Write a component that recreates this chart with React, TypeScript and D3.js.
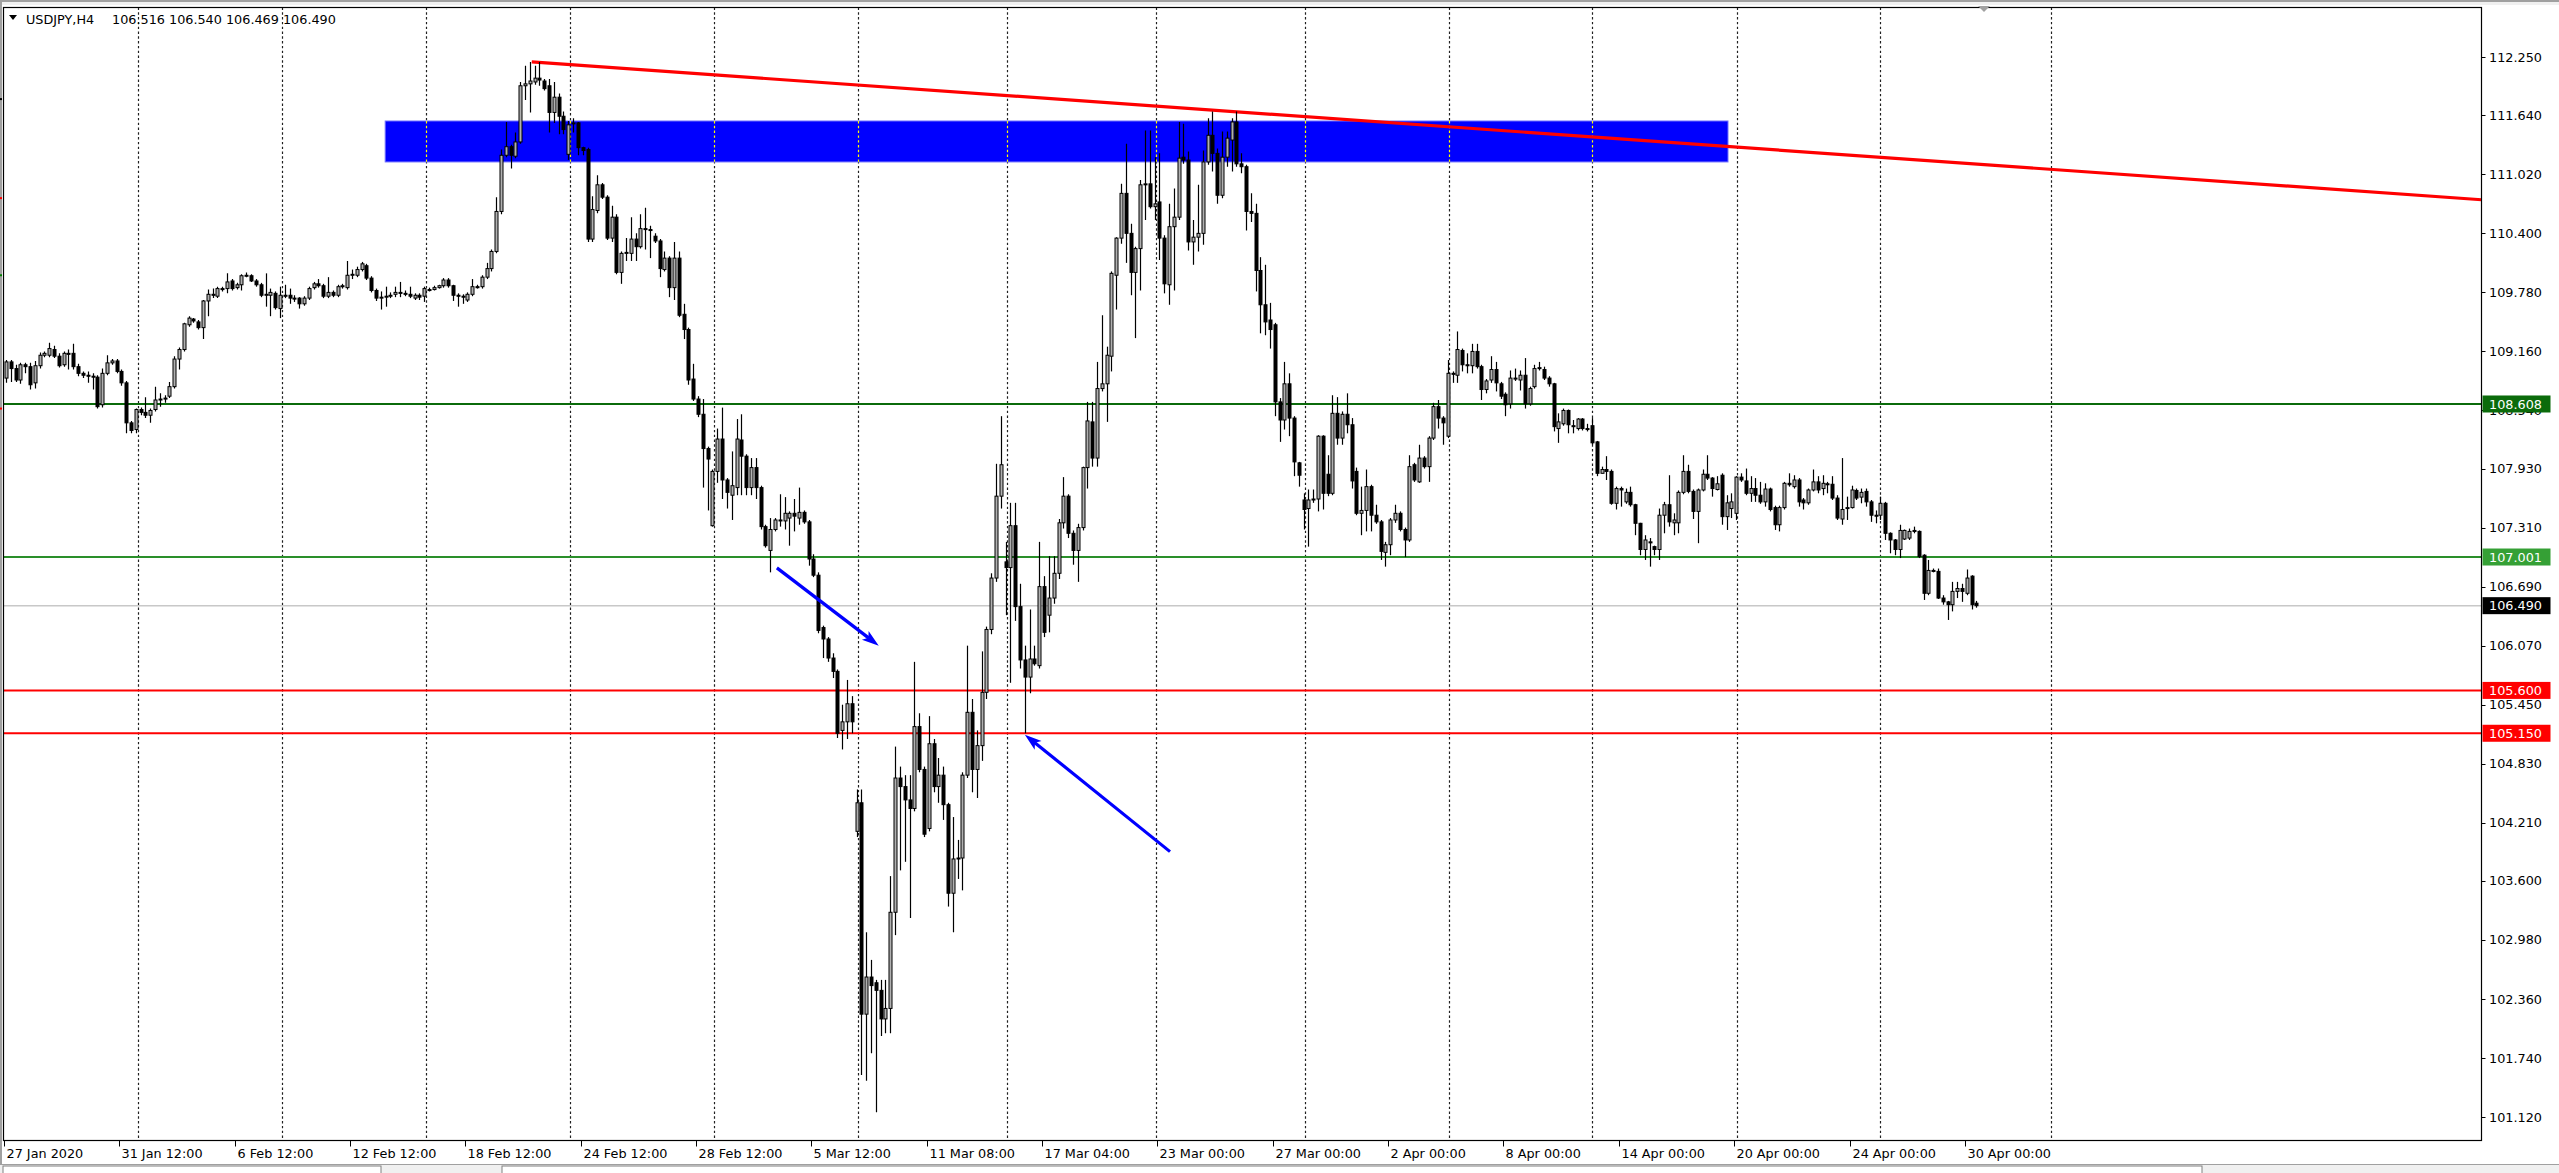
import React from "react";
import * as d3 from "d3";

// ---------------- DATA ----------------
const opens = [
  108.88,109.05,108.98,108.86,109.02,109.00,108.83,109.01,109.12,109.12,
  109.18,109.11,109.02,109.14,109.14,109.00,108.93,108.91,108.90,108.89,
  108.60,108.93,109.04,109.06,108.95,108.83,108.41,108.34,108.55,108.52,
  108.49,108.55,108.65,108.66,108.69,108.79,109.08,109.18,109.44,109.50,
  109.47,109.41,109.69,109.76,109.74,109.82,109.82,109.90,109.83,109.86,
  109.95,109.955,109.90,109.86,109.75,109.75,109.77,109.61,109.75,109.75,
  109.72,109.72,109.66,109.72,109.83,109.87,109.85,109.74,109.78,109.75,
  109.84,109.83,109.96,109.96,110.02,110.06,109.93,109.80,109.72,109.73,
  109.74,109.76,109.78,109.77,109.76,109.72,109.75,109.74,109.81,109.81,
  109.83,109.85,109.91,109.85,109.75,109.74,109.70,109.76,109.84,109.84,
  109.94,110.03,110.21,110.63,111.22,111.31,111.21,111.36,111.95,111.97,
  111.99,112.03,112.00,111.95,111.67,111.83,111.63,111.23,111.55,111.56,
  111.30,111.28,110.34,110.64,110.91,110.78,110.35,110.57,109.99,110.19,
  110.19,110.34,110.26,110.45,110.44,110.37,110.32,110.02,110.14,109.83,
  110.14,109.55,109.39,108.87,108.66,108.50,108.14,107.33,107.90,108.24,
  107.81,107.65,107.73,108.23,108.06,107.73,107.94,107.73,107.32,107.07,
  107.29,107.39,107.38,107.41,107.46,107.41,107.47,107.37,106.98,106.81,
  106.26,106.14,105.94,105.80,105.18,105.27,105.46,104.12,104.42,102.20,
  102.59,102.53,102.45,102.15,102.26,103.27,104.68,104.59,104.45,104.36,
  105.22,104.77,104.15,105.04,104.59,104.71,104.40,103.47,103.83,103.84,
  104.71,105.37,104.77,105.02,105.58,106.24,106.78,107.64,106.95,106.89,
  107.33,106.48,105.92,105.74,105.93,105.86,106.69,106.39,106.57,106.83,
  107.36,107.64,107.25,107.07,107.31,107.94,108.42,108.04,108.77,108.82,
  109.11,109.96,110.35,110.82,110.40,109.99,110.24,110.91,110.92,110.68,
  110.73,110.35,109.86,110.47,110.57,111.20,111.17,110.31,110.36,110.40,
  111.15,111.43,111.24,110.80,111.20,111.38,111.57,111.13,111.10,110.63,
  110.61,110.01,109.65,109.49,109.44,108.63,108.44,108.82,108.46,107.99,
  107.60,107.51,107.60,107.61,108.27,107.87,107.67,108.51,108.25,108.50,
  108.39,107.90,107.46,107.49,107.74,107.44,107.37,107.05,107.13,107.39,
  107.46,107.29,107.18,107.97,107.79,108.04,107.95,108.25,108.58,108.46,
  108.27,108.93,108.91,109.17,109.02,109.01,109.16,109.00,108.76,108.86,
  108.97,108.82,108.71,108.61,108.87,108.86,108.91,108.61,108.79,108.98,
  108.97,108.88,108.82,108.35,108.40,108.54,108.38,108.35,108.45,108.35,
  108.38,108.21,107.88,107.92,107.90,107.565,107.72,107.58,107.68,107.55,
  107.355,107.08,107.16,107.11,107.08,107.44,107.55,107.36,107.36,107.68,
  107.90,107.69,107.48,107.705,107.87,107.83,107.71,107.86,107.425,107.51,
  107.46,107.84,107.80,107.67,107.72,107.65,107.58,107.715,107.52,107.34,
  107.52,107.775,107.74,107.81,107.60,107.57,107.705,107.79,107.72,107.77,
  107.765,107.62,107.40,107.51,107.52,107.70,107.63,107.69,107.58,107.44,
  107.44,107.565,107.25,107.18,107.08,107.19,107.20,107.28,107.27,107.02,
  106.62,106.86,106.85,106.57,106.53,106.50,106.64,106.67,106.62,106.80,106.516,
];
const highs = [
  109.07,109.07,109.02,109.04,109.04,109.04,109.06,109.15,109.16,109.25,
  109.22,109.14,109.16,109.18,109.24,109.03,108.95,108.95,108.93,108.91,
  108.98,109.12,109.08,109.08,108.97,108.85,108.43,108.56,108.57,108.68,
  108.56,108.79,108.72,108.70,108.84,109.11,109.20,109.46,109.53,109.51,
  109.49,109.70,109.81,109.82,109.84,109.84,109.98,109.92,109.88,109.97,
  109.99,109.97,109.92,109.88,109.98,109.82,109.79,109.84,109.86,109.82,
  109.75,109.73,109.74,109.84,109.89,109.92,109.87,109.94,109.80,109.86,
  109.87,110.11,110.02,110.05,110.10,110.08,109.95,109.82,109.79,109.84,
  109.78,109.84,109.89,109.80,109.84,109.77,109.77,109.84,109.83,109.85,
  109.86,109.93,109.93,109.86,109.77,109.76,109.78,109.92,109.86,109.96,
  110.09,110.23,110.78,111.28,111.57,111.33,111.46,111.99,112.16,112.20,
  112.16,112.20,112.02,112.02,111.99,111.87,111.68,111.58,111.61,111.57,
  111.31,111.30,110.79,111.01,110.93,110.80,110.69,110.60,110.21,110.35,
  110.57,110.40,110.60,110.67,110.48,110.40,110.34,110.21,110.16,110.31,
  110.21,109.66,109.41,109.03,108.69,108.66,108.16,107.92,108.35,108.57,
  107.83,108.11,108.45,108.50,108.08,108.04,108.04,107.75,107.34,107.41,
  107.41,107.66,107.63,107.48,107.61,107.73,107.49,107.39,107.03,106.84,
  106.28,106.16,105.99,105.82,105.45,105.71,105.54,104.56,104.56,103.06,
  102.77,102.56,102.56,102.56,103.65,105.01,104.80,104.71,104.71,105.90,
  105.36,104.80,105.33,105.09,104.89,104.80,104.42,104.27,104.03,104.74,
  106.07,105.51,105.18,106.01,106.27,106.83,107.98,108.48,107.16,107.57,
  107.57,106.72,106.07,106.45,106.07,107.16,106.80,107.01,107.01,107.40,
  107.84,107.66,107.28,107.35,107.95,108.63,108.63,109.05,109.54,109.21,
  110.00,110.36,110.92,111.34,110.50,110.26,110.96,111.48,111.48,111.20,
  111.24,110.38,110.71,110.87,111.57,111.55,111.26,110.54,110.91,111.27,
  111.61,111.68,111.29,111.47,111.47,111.61,111.68,111.24,111.12,110.82,
  110.71,110.15,110.07,109.67,109.46,108.67,109.05,108.93,108.48,108.00,
  107.67,107.71,107.71,108.28,108.28,108.07,108.70,108.68,108.53,108.72,
  108.46,107.94,107.74,107.92,107.76,107.55,107.39,107.16,107.41,107.55,
  107.48,107.31,108.07,107.99,108.18,108.06,108.27,108.62,108.65,108.48,
  109.07,108.95,109.37,109.19,109.14,109.24,109.24,109.02,108.87,109.11,
  109.05,108.84,108.73,108.96,108.98,108.96,109.09,108.79,109.02,109.05,
  109.00,108.90,108.83,108.51,108.56,108.55,108.44,108.46,108.46,108.40,
  108.46,108.22,107.95,108.06,107.92,107.74,107.74,107.72,107.74,107.56,
  107.36,107.23,107.20,107.12,107.51,107.58,107.86,107.46,107.70,108.07,
  107.97,107.71,107.72,107.92,108.07,107.84,107.85,107.88,107.65,107.67,
  107.85,107.88,107.93,107.85,107.83,107.79,107.775,107.73,107.54,107.54,
  107.79,107.88,107.86,107.83,107.62,107.72,107.92,107.85,107.86,107.79,
  107.85,107.65,108.04,107.635,107.75,107.72,107.72,107.72,107.60,107.49,
  107.635,107.58,107.26,107.19,107.34,107.29,107.30,107.32,107.28,107.03,
  106.97,106.88,106.88,106.60,106.54,106.74,106.74,106.72,106.87,106.81,106.54,
];
const lows = [
  108.83,108.84,108.84,108.82,108.93,108.76,108.77,108.98,109.10,109.10,
  109.09,108.99,109.00,108.97,108.97,108.90,108.88,108.83,108.76,108.56,
  108.57,108.91,109.02,108.93,108.80,108.30,108.30,108.30,108.49,108.46,
  108.41,108.53,108.58,108.62,108.67,108.77,108.97,109.16,109.42,109.46,
  109.39,109.29,109.53,109.72,109.72,109.79,109.77,109.80,109.81,109.80,
  109.94,109.89,109.84,109.73,109.63,109.53,109.60,109.51,109.72,109.66,
  109.68,109.61,109.64,109.70,109.81,109.83,109.72,109.72,109.73,109.73,
  109.82,109.81,109.92,109.94,110.00,109.91,109.78,109.69,109.60,109.63,
  109.72,109.73,109.73,109.74,109.72,109.70,109.70,109.68,109.79,109.80,
  109.82,109.83,109.83,109.69,109.63,109.66,109.68,109.74,109.82,109.82,
  109.92,110.00,110.19,110.60,111.20,111.08,111.19,111.34,111.80,111.67,
  111.96,111.95,111.90,111.46,111.56,111.44,111.44,111.17,111.46,111.22,
  111.22,110.31,110.31,110.61,110.76,110.33,110.31,109.97,109.87,110.11,
  110.11,110.11,110.24,110.23,110.14,110.30,109.94,110.00,109.73,109.70,
  109.52,109.29,108.81,108.64,108.47,107.73,107.49,107.32,107.78,107.61,
  107.51,107.39,107.65,107.65,107.65,107.65,107.61,107.29,107.10,106.84,
  107.27,107.32,107.29,107.12,107.27,107.34,107.35,106.91,106.79,106.20,
  105.94,105.90,105.73,105.10,104.98,105.09,105.15,104.06,101.56,101.50,
  101.79,101.17,101.97,102.00,102.00,103.03,103.71,103.80,103.21,104.33,
  104.74,104.06,104.12,104.53,104.42,104.24,103.33,103.06,103.62,103.50,
  104.68,104.53,104.47,104.86,105.51,106.19,106.74,107.51,106.39,105.68,
  106.33,105.83,105.15,105.57,105.86,105.83,106.16,106.21,106.51,106.77,
  107.30,107.20,106.92,106.74,107.28,107.72,107.95,107.95,108.74,108.42,
  108.95,109.60,110.29,110.09,109.75,109.30,109.80,110.54,110.66,110.54,
  110.12,109.77,109.65,109.80,110.54,111.13,110.22,110.07,110.21,110.28,
  111.12,111.05,110.71,110.77,111.10,111.05,111.10,111.03,110.43,110.52,
  109.79,109.35,109.33,109.19,108.48,108.21,108.34,108.27,107.85,107.74,
  107.29,107.11,107.57,107.48,107.50,107.64,107.65,108.18,108.18,108.30,
  107.72,107.44,107.23,107.27,107.27,107.35,106.97,106.90,107.02,107.36,
  107.27,107.00,107.16,107.79,107.78,107.93,107.79,108.23,108.35,108.18,
  108.25,108.83,108.83,108.95,108.93,108.93,108.98,108.65,108.72,108.83,
  108.74,108.66,108.48,108.56,108.85,108.75,108.56,108.59,108.77,108.96,
  108.86,108.79,108.32,108.20,108.38,108.30,108.30,108.33,108.33,108.32,
  108.18,107.85,107.88,107.81,107.55,107.50,107.53,107.56,107.53,107.23,
  107.02,106.97,106.90,107.02,106.97,107.25,107.32,107.23,107.25,107.66,
  107.67,107.40,107.146,107.69,107.81,107.635,107.70,107.34,107.285,107.41,
  107.39,107.79,107.65,107.58,107.58,107.56,107.53,107.48,107.285,107.27,
  107.50,107.74,107.72,107.53,107.50,107.55,107.69,107.67,107.65,107.67,
  107.60,107.39,107.34,107.39,107.51,107.60,107.565,107.53,107.37,107.355,
  107.39,107.18,107.04,107.02,106.99,107.18,107.18,107.25,106.99,106.55,
  106.60,106.84,106.56,106.50,106.34,106.43,106.57,106.53,106.60,106.45,106.469,
];
const closes = [
  109.05,108.98,108.86,109.02,109.00,108.81,109.01,109.12,109.14,109.19,
  109.11,109.01,109.14,109.13,109.00,108.93,108.91,108.90,108.89,108.58,
  108.93,109.04,109.06,108.95,108.83,108.41,108.33,108.55,108.52,108.49,
  108.54,108.65,108.66,108.67,108.79,109.08,109.18,109.45,109.51,109.48,
  109.41,109.69,109.76,109.75,109.82,109.82,109.89,109.82,109.86,109.955,
  109.96,109.90,109.86,109.75,109.76,109.78,109.62,109.75,109.74,109.72,
  109.71,109.66,109.72,109.82,109.87,109.85,109.74,109.78,109.75,109.84,
  109.85,109.96,109.97,110.02,110.08,109.93,109.80,109.72,109.73,109.74,
  109.75,109.78,109.77,109.76,109.74,109.75,109.73,109.82,109.81,109.83,
  109.85,109.91,109.85,109.75,109.74,109.73,109.76,109.84,109.84,109.94,
  110.03,110.21,110.63,111.22,111.31,111.22,111.36,111.95,111.97,112.00,
  112.03,112.01,111.92,111.67,111.83,111.63,111.49,111.54,111.56,111.30,
  111.27,110.34,110.65,110.91,110.78,110.35,110.57,109.99,110.19,110.20,
  110.34,110.26,110.45,110.44,110.43,110.32,110.03,110.14,109.83,110.14,
  109.54,109.39,108.86,108.66,108.50,108.14,108.03,107.90,108.24,107.81,
  107.68,107.75,108.24,108.06,107.73,107.94,107.73,107.32,107.12,107.29,
  107.39,107.38,107.46,107.46,107.43,107.47,107.37,106.98,106.81,106.23,
  106.14,105.94,105.80,105.15,105.27,105.46,105.27,104.42,102.20,102.59,
  102.50,102.45,102.15,102.26,103.27,104.68,104.59,104.45,104.36,105.22,
  104.77,104.09,105.04,104.59,104.71,104.40,103.47,103.83,103.84,104.71,
  105.37,104.77,105.02,105.58,106.24,106.78,107.64,107.97,106.89,107.33,
  106.48,105.92,105.74,105.93,105.88,106.69,106.21,106.57,106.83,107.36,
  107.64,107.25,107.07,107.31,107.94,108.43,108.04,108.77,108.82,109.12,
  109.98,110.35,110.82,110.40,109.99,110.24,110.91,110.92,110.68,110.71,
  110.35,109.87,110.47,110.57,111.19,111.17,110.31,110.36,110.40,111.15,
  111.43,111.24,110.80,111.20,111.40,111.57,111.13,111.10,110.63,110.61,
  110.01,109.65,109.47,109.39,108.63,108.44,108.82,108.46,108.00,107.86,
  107.50,107.60,107.61,108.27,107.67,107.67,108.51,108.25,108.50,108.39,
  107.80,107.46,107.49,107.74,107.44,107.37,107.06,107.13,107.39,107.46,
  107.29,107.18,107.95,107.81,108.04,107.95,108.25,108.58,108.46,108.41,
  108.93,108.93,109.18,109.02,109.01,109.16,109.00,108.76,108.85,108.97,
  108.83,108.69,108.60,108.88,108.88,108.91,108.61,108.77,108.98,108.99,
  108.88,108.82,108.37,108.42,108.54,108.39,108.38,108.45,108.35,108.35,
  108.20,107.88,107.92,107.90,107.565,107.72,107.705,107.68,107.55,107.355,
  107.08,107.18,107.15,107.08,107.44,107.55,107.37,107.39,107.68,107.90,
  107.69,107.48,107.705,107.87,107.83,107.72,107.77,107.425,107.57,107.58,
  107.84,107.81,107.67,107.72,107.65,107.58,107.715,107.50,107.34,107.52,
  107.775,107.76,107.81,107.58,107.57,107.705,107.79,107.705,107.775,107.765,
  107.62,107.41,107.50,107.52,107.705,107.62,107.68,107.58,107.44,107.44,
  107.565,107.25,107.18,107.08,107.28,107.28,107.27,107.27,107.006,106.62,
  106.86,106.85,106.57,106.53,106.50,106.64,106.67,106.64,106.78,106.50,106.49,
];

const priceTicks = [112.25, 111.64, 111.02, 110.4, 109.78, 109.16, 108.54, 107.93, 107.31,
  106.69, 106.07, 105.45, 104.83, 104.21, 103.6, 102.98, 102.36, 101.74, 101.12];

const dateLabels = ["27 Jan 2020", "31 Jan 12:00", "6 Feb 12:00", "12 Feb 12:00", "18 Feb 12:00",
  "24 Feb 12:00", "28 Feb 12:00", "5 Mar 12:00", "11 Mar 08:00", "17 Mar 04:00", "23 Mar 00:00",
  "27 Mar 00:00", "2 Apr 00:00", "8 Apr 00:00", "14 Apr 00:00", "20 Apr 00:00", "24 Apr 00:00",
  "30 Apr 00:00"];
const dateLabelBars = [0, 24, 48, 72, 96, 120, 144, 168, 192, 216, 240, 264, 288, 312, 336, 360, 384, 408];

const gridBars = [27.4, 57.4, 87.4, 117.4, 147.3, 177.3, 208.3, 239.3, 270.2, 300.2, 330.1, 360.2, 390, 425.5];

const hLevels = [
  { price: 108.608, color: "#0b6b0b", box: "#0b6b0b", label: "108.608", width: 2 },
  { price: 107.001, color: "#2a8f2a", box: "#35a035", label: "107.001", width: 2 },
  { price: 105.6, color: "#ff0000", box: "#ff0000", label: "105.600", width: 2 },
  { price: 105.15, color: "#ff0000", box: "#ff0000", label: "105.150", width: 2 },
];
const bidPrice = 106.49;

const zoneBars = [78.9, 358.3];
const zonePrices = [111.15, 111.58];

const trendBars = [109.4, 256];
const trendPrices = [112.2, 111.677];

const arrowA = { fromBar: 160.4, fromPrice: 106.887, toBar: 181.6, toPrice: 106.07 };
const arrowB = { fromBar: 242.2, fromPrice: 103.907, toBar: 212.0, toPrice: 105.135 };

const header = ["USDJPY,H4", "106.516 106.540 106.469 106.490"];

// small colour marks on the left window edge (price levels)
const edgeMarks = [
  { price: 111.81, color: "#000" },
  { price: 110.77, color: "#ff0000" },
  { price: 109.96, color: "#008000" },
  { price: 108.56, color: "#ff0000" },
];

// ---------------- LAYOUT ----------------
const W = 2559;
const H = 1173;
const PL = 3.5, PT = 7.5, PR = 2481.5, PB = 1140.5;
const FONT = "'DejaVu Sans', Tahoma, sans-serif";
const FS = 12.8;

const lastIdx = closes.length - 1;
const x = d3.scaleLinear().domain([0, lastIdx]).range([6, 6 + 4.806 * lastIdx]);
const y = d3.scaleLinear().domain([101.12, 112.25]).range([1117, 57.2]);

function Arrow({ a }: { a: typeof arrowA }) {
  const x1 = x(a.fromBar), y1 = y(a.fromPrice), x2 = x(a.toBar), y2 = y(a.toPrice);
  const ang = Math.atan2(y2 - y1, x2 - x1);
  const len = 17, half = 5.5;
  const bx = x2 - len * Math.cos(ang), by = y2 - len * Math.sin(ang);
  const px = -Math.sin(ang), py = Math.cos(ang);
  const pts = [
    [x2, y2],
    [bx + px * half, by + py * half],
    [bx + Math.cos(ang) * 4, by + Math.sin(ang) * 4],
    [bx - px * half, by - py * half],
  ];
  return (
    <g>
      <line x1={x1} y1={y1} x2={bx + Math.cos(ang) * 5} y2={by + Math.sin(ang) * 5} stroke="#0000ff" strokeWidth={3.2} />
      <polygon points={pts.map((p) => p.join(",")).join(" ")} fill="#0000ff" />
    </g>
  );
}

export default function App() {
  const slope = (trendPrices[1] - trendPrices[0]) / (trendBars[1] - trendBars[0]);
  const rightBar = x.invert(PR);
  const trendEnd = trendPrices[0] + slope * (rightBar - trendBars[0]);

  const zx0 = x(zoneBars[0]), zx1 = x(zoneBars[1]);
  const zy0 = y(zonePrices[1]), zy1 = y(zonePrices[0]);

  const candles = closes.map((c, i) => {
    const o = opens[i], h = highs[i], l = lows[i];
    const cx = Math.round(x(i)) + 0.5;
    const bull = c > o;
    const top = y(Math.max(o, c)), bot = y(Math.min(o, c));
    const bh = Math.max(bot - top, 1);
    return (
      <g key={i}>
        <line x1={cx} x2={cx} y1={y(h)} y2={y(l)} stroke="#000" strokeWidth={1.2} />
        <rect x={cx - 1.5} y={top} width={3} height={bh}
          fill={bull ? "#b0b0b0" : "#000"} stroke="#000" strokeWidth={1} />
      </g>
    );
  });

  return (
    <div style={{ position: "fixed", left: 0, top: 0, width: W, height: H, background: "#fff" }}>
      <svg width={W} height={H} viewBox={`0 0 ${W} ${H}`} style={{ display: "block" }} fontFamily={FONT}>
        <rect x={0} y={0} width={W} height={H} fill="#fff" />
        {/* window chrome */}
        <rect x={0} y={0} width={W} height={2} fill="#a0a0a0" />
        <rect x={0} y={2} width={W} height={3} fill="#f0f0f0" />
        <rect x={0} y={0} width={2} height={H} fill="#a0a0a0" />
        {edgeMarks.map((m, k) => (
          <rect key={k} x={0} y={y(m.price) - 1} width={2} height={2} fill={m.color} />
        ))}

        <defs>
          <clipPath id="plot">
            <rect x={PL} y={PT} width={PR - PL} height={PB - PT} />
          </clipPath>
        </defs>

        <g clipPath="url(#plot)">
          {/* vertical grid */}
          {gridBars.map((b, k) => (
            <line key={k} x1={Math.round(x(b)) + 0.5} x2={Math.round(x(b)) + 0.5} y1={PT} y2={PB}
              stroke="#202020" strokeWidth={1.2} strokeDasharray="2.4,2.4" />
          ))}
          {/* zone rectangle */}
          <rect x={zx0} y={zy0} width={zx1 - zx0} height={zy1 - zy0} fill="#0000ff" stroke="#6f6fff" strokeWidth={1} />
          {gridBars.filter((b) => x(b) > zx0 && x(b) < zx1).map((b, k) => (
            <line key={k} x1={Math.round(x(b)) + 0.5} x2={Math.round(x(b)) + 0.5} y1={zy0} y2={zy1}
              stroke="#ffff00" strokeWidth={1.2} strokeDasharray="2.4,2.4" />
          ))}
          {/* horizontal level lines */}
          <line x1={PL} x2={PR} y1={y(bidPrice)} y2={y(bidPrice)} stroke="#c8c8c8" strokeWidth={1.5} />
          {hLevels.map((lv, k) => (
            <line key={k} x1={PL} x2={PR} y1={y(lv.price)} y2={y(lv.price)} stroke={lv.color} strokeWidth={lv.width} />
          ))}
          {/* trend line */}
          <line x1={x(trendBars[0])} y1={y(trendPrices[0])} x2={PR} y2={y(trendEnd)} stroke="#ff0000" strokeWidth={3.2} />
          {/* candles */}
          {candles}
          {/* arrows */}
          <Arrow a={arrowA} />
          <Arrow a={arrowB} />
        </g>

        {/* frame */}
        <rect x={PL} y={PT} width={PR - PL} height={PB - PT} fill="none" stroke="#000" strokeWidth={1.2} />

        {/* header */}
        <path d="M9,15 L17,15 L13,20 Z" fill="#000" />
        <text x={26} y={24} fontSize={FS} fill="#000">{header[0]}</text>
        <text x={112} y={24} fontSize={FS} fill="#000">{header[1]}</text>

        {/* price axis */}
        {priceTicks.map((p, k) => (
          <g key={k}>
            <line x1={PR} x2={PR + 4} y1={Math.round(y(p)) + 0.5} y2={Math.round(y(p)) + 0.5} stroke="#000" />
            <text x={2489} y={y(p)} dy="0.36em" fontSize={FS} fill="#000">{d3.format(".3f")(p)}</text>
          </g>
        ))}
        {/* bid label */}
        <rect x={PR + 1} y={y(bidPrice) - 8.5} width={68} height={17} fill="#000" />
        <text x={2489} y={y(bidPrice)} dy="0.36em" fontSize={FS} fill="#fff">{d3.format(".3f")(bidPrice)}</text>
        {hLevels.map((lv, k) => (
          <g key={k}>
            <rect x={PR + 1} y={y(lv.price) - 8.5} width={68} height={17} fill={lv.box} />
            <text x={2489} y={y(lv.price)} dy="0.36em" fontSize={FS} fill="#fff">{lv.label}</text>
          </g>
        ))}

        {/* time axis */}
        {dateLabelBars.map((b, k) => {
          const tx = Math.round(x(b)) - 1.5;
          return (
            <g key={k}>
              <line x1={tx} x2={tx} y1={PB} y2={PB + 6} stroke="#000" />
              <text x={tx + 2} y={1158} fontSize={FS} fill="#000">{dateLabels[k]}</text>
            </g>
          );
        })}

        {/* chart shift marker */}
        <path d="M1978,6 L1990,6 L1984,12 Z" fill="#a0a0a0" />

        {/* bottom tab strip */}
        <rect x={0} y={1164} width={W} height={9} fill="#f0f0f0" />
        <line x1={0} x2={W} y1={1164.5} y2={1164.5} stroke="#a0a0a0" />
        <rect x={3} y={1166} width={378} height={8} fill="#fff" stroke="#808080" />
        <rect x={502} y={1166} width={1700} height={8} fill="#fff" stroke="#808080" />
      </svg>
    </div>
  );
}
